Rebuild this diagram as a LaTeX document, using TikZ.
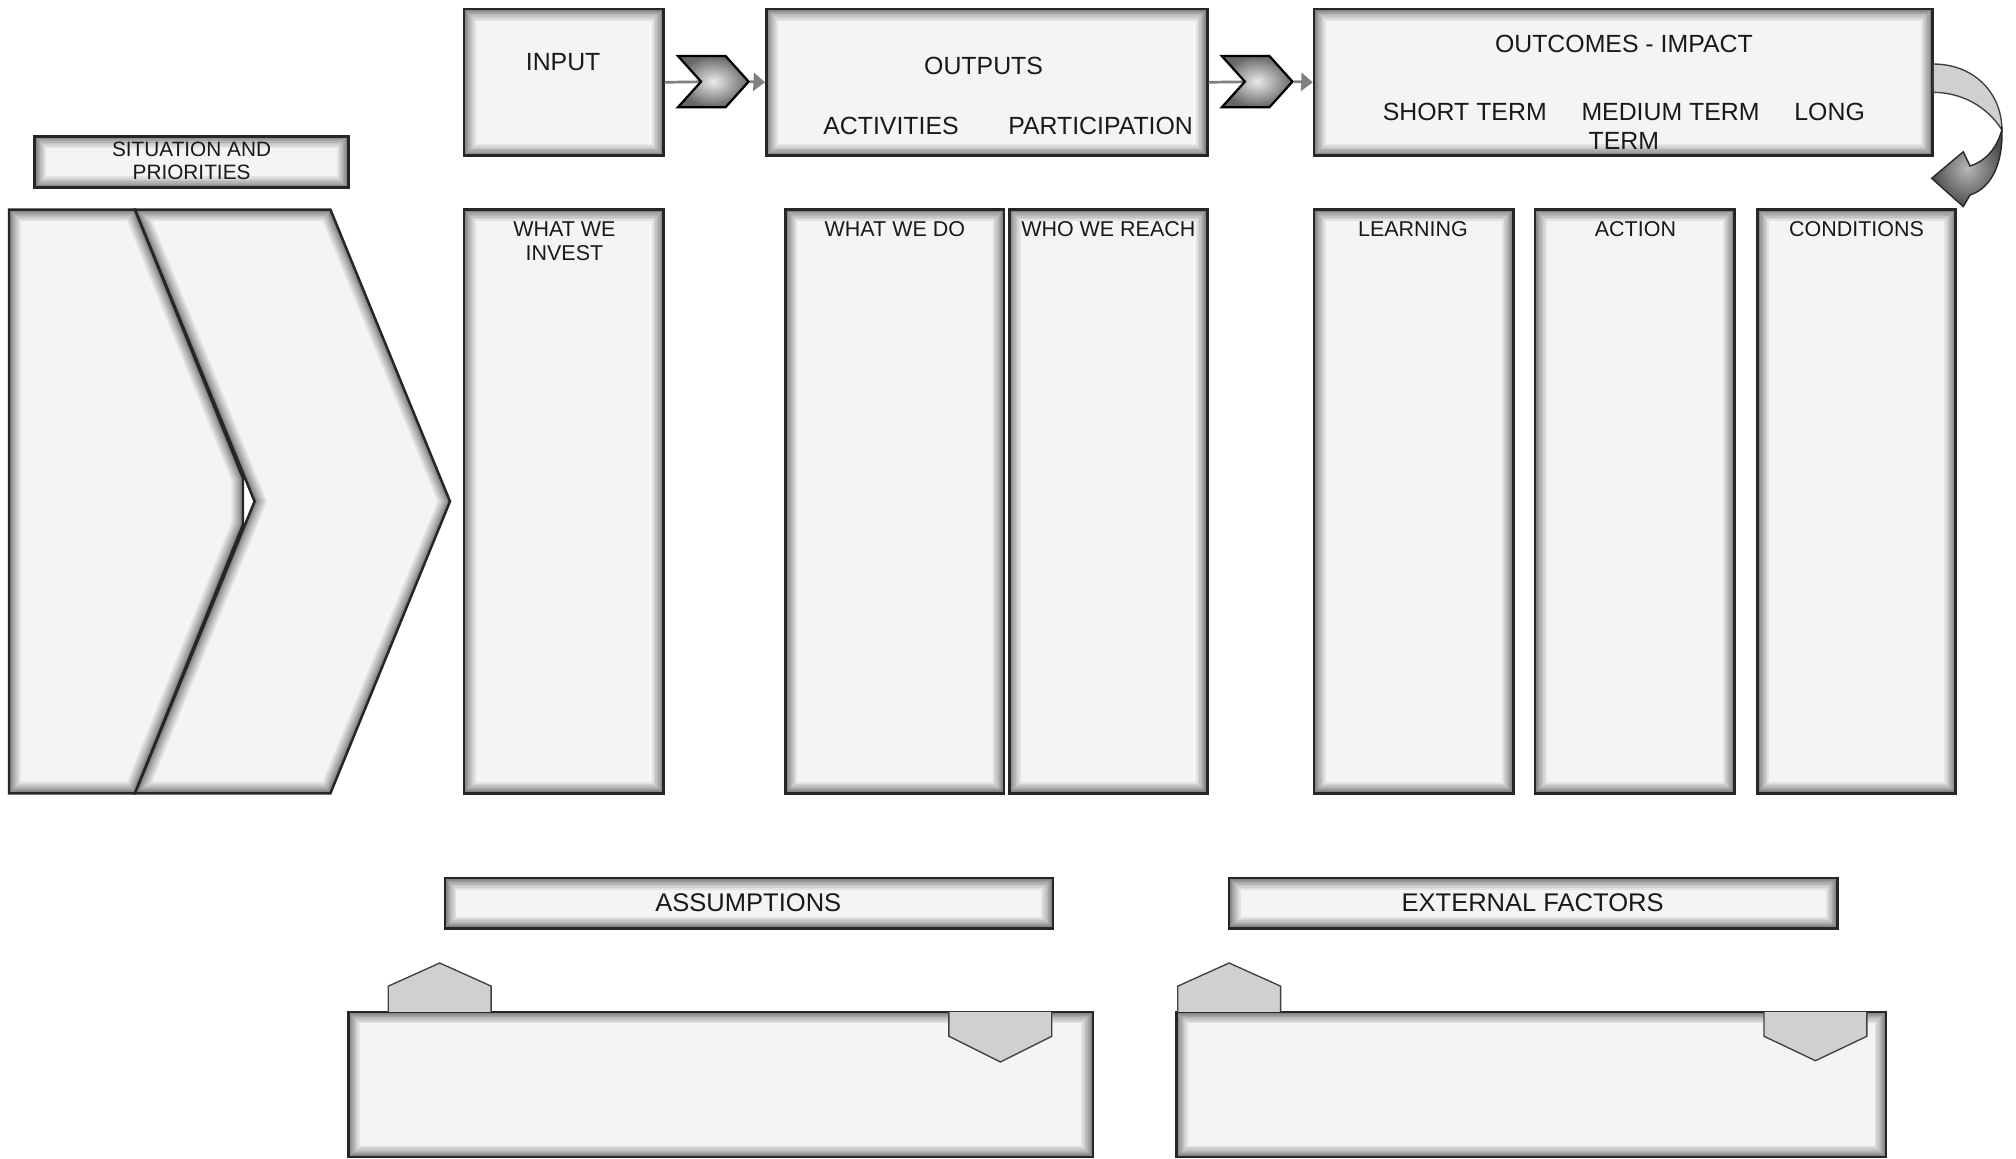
\documentclass[tikz,border=0pt]{standalone}
\usepackage{fontspec}
\setmainfont{Liberation Sans}
\usetikzlibrary{shapes.symbols,arrows.meta}
\definecolor{boxfill}{HTML}{F4F4F4}
\definecolor{tabfill}{HTML}{D0D0D0}
\definecolor{linkgray}{HTML}{808080}
\tikzstyle{l1}=[line width=1.1pt]
\tikzstyle{box}=[rectangle, draw=black!85, l1, fill=boxfill, inner sep=0pt, path picture={
    \foreach \w in {1,...,12}
        \draw[line width=\w*\w*0.025mm, black, opacity=0.07] (path picture bounding box.south west) rectangle (path picture bounding box.north east);}]
\tikzstyle{lbl}=[font=\fontsize{9.5}{10.8}\selectfont, text=black!90, inner sep=0pt, align=center]
\tikzstyle{biglbl}=[lbl, font=\fontsize{11}{13}\selectfont]
\tikzstyle{chevron}=[signal, signal from=west, signal to=east, signal pointer angle=96, minimum width=11mm, minimum height=8mm, inner sep=0pt, draw=black, line width=1pt, shading=radial, inner color=black!8, outer color=black!60]
\tikzstyle{link}=[draw=linkgray, line width=1.2pt]
\tikzstyle{tab}=[fill=tabfill, draw=black!75, line width=0.6pt]
\newcommand{\glowshape}[1]{%
    \fill[boxfill] #1;
    \begin{scope}
        \clip #1;
        \foreach \w in {1,...,12}
            \draw[line width=\w*\w*0.025mm, black, opacity=0.07] #1;
    \end{scope}
    \draw[l1, draw=black!85] #1;
}

\begin{document}
\begin{tikzpicture}[x=0.2mm, y=-0.2mm]
    \useasboundingbox (0,0) rectangle (1568,901);

    % situation
    \glowshape{(7,163) -- (105,163) -- (189,372) -- (189,408) -- (105,617) -- (7,617) -- cycle}
    \glowshape{(105,163) -- (257,163) -- (350,390) -- (257,617) -- (105,617) -- (198,390) -- cycle}
    \node[box, minimum width=48.8mm, minimum height=8mm] (situation) at (149,126) {};
    \node[lbl, font=\fontsize{9.2}{10.2}\selectfont] (situationtxt) at (149,125) {SITUATION AND\\PRIORITIES};

    % top row
    \node[box, minimum width=31mm, minimum height=22.8mm] (input) at (438.5,64) {};
    \node[box, minimum width=68.6mm, minimum height=22.8mm] (outputs) at (767.5,64) {};
    \node[box, minimum width=96.2mm, minimum height=22.8mm] (outcomes) at (1262.5,64) {};
    \node[biglbl] (inputtxt) at (438,48) {INPUT};
    \node[biglbl] (outputstxt) at (765,51) {OUTPUTS};
    \node[biglbl] (activitiestxt) at (693,98) {ACTIVITIES};
    \node[biglbl] (participationtxt) at (856,98) {PARTICIPATION};
    \node[biglbl] (outcomestxt) at (1263,34) {OUTCOMES - IMPACT};
    \node[biglbl] (termstxt) at (1263,98.5) {SHORT TERM\hspace{1.4em}MEDIUM TERM\hspace{1.4em}LONG\\TERM};

    \coordinate (c1) at (554.75,63.5);
    \draw[link] (input.east) -- (c1);
    \node[chevron] (chev1) at (c1) {};
    \draw[link, -{Triangle[length=1.8mm, width=2.8mm]}] (chev1.east) -- (outputs.west);

    \coordinate (c2) at (977.75,63.5);
    \draw[link] (outputs.east) -- (c2);
    \node[chevron] (chev2) at (c2) {};
    \draw[link, -{Triangle[length=1.8mm, width=2.8mm]}] (chev2.east) -- (outcomes.west);

    % turn arrow
    \draw[tab] (1503.6,49.8) .. controls (1535,49.8) and (1557,72) .. (1557,101)
        .. controls (1545,82) and (1525,72) .. (1503.6,71.8) -- cycle;
    \draw[draw=black!85, line width=0.6pt, shading=radial, inner color=black!28, outer color=black!70]
        (1557,101) .. controls (1558,125) and (1550,146) .. (1532.2,151.7) -- (1527,160.7) -- (1502.4,138.7)
        -- (1527,118) -- (1532.2,129.1) .. controls (1545,125) and (1553,115) .. (1557,101) -- cycle;

    % columns
    \node[box, minimum width=31mm, minimum height=90.8mm] (invest) at (438.5,390) {};
    \node[box, minimum width=34mm, minimum height=90.8mm] (whatdo) at (696,390) {};
    \node[box, minimum width=30.8mm, minimum height=90.8mm] (reach) at (862,390) {};
    \node[box, minimum width=31mm, minimum height=90.8mm] (learning) at (1099.5,390) {};
    \node[box, minimum width=31mm, minimum height=90.8mm] (action) at (1271.5,390) {};
    \node[box, minimum width=30.8mm, minimum height=90.8mm] (conditions) at (1444,390) {};
    \node[lbl] (investtxt) at (439,187.5) {WHAT WE\\INVEST};
    \node[lbl] (whatdotxt) at (696,178) {WHAT WE DO};
    \node[lbl] (reachtxt) at (862,178) {WHO WE REACH};
    \node[lbl] (learningtxt) at (1099,178) {LEARNING};
    \node[lbl] (actiontxt) at (1272,178) {ACTION};
    \node[lbl] (conditionstxt) at (1444,178) {CONDITIONS};

    % bottom
    \node[box, minimum width=94.6mm, minimum height=7.8mm] (assumptions) at (582.5,702.5) {};
    \node[box, minimum width=94.6mm, minimum height=7.8mm] (external) at (1192.5,702.5) {};
    \node[biglbl, font=\fontsize{11.3}{13}\selectfont] (assumptionstxt) at (582,702) {ASSUMPTIONS};
    \node[biglbl, font=\fontsize{11.3}{13}\selectfont] (externaltxt) at (1192,702) {EXTERNAL FACTORS};

    \node[box, minimum width=115.8mm, minimum height=22.6mm] (assumbody) at (560.5,843.5) {};
    \node[box, minimum width=110.4mm, minimum height=22.6mm] (extbody) at (1191,843.5) {};
    \draw[tab] (302,787) -- (302,767) -- (342,749) -- (382,767) -- (382,787);
    \draw[tab] (738,787) -- (738,806) -- (778,826) -- (818,806) -- (818,787);
    \draw[tab] (916,787) -- (916,767) -- (956,749) -- (996,767) -- (996,787);
    \draw[tab] (1372,787) -- (1372,806) -- (1412,825) -- (1452,806) -- (1452,787);
\end{tikzpicture}
\end{document}
